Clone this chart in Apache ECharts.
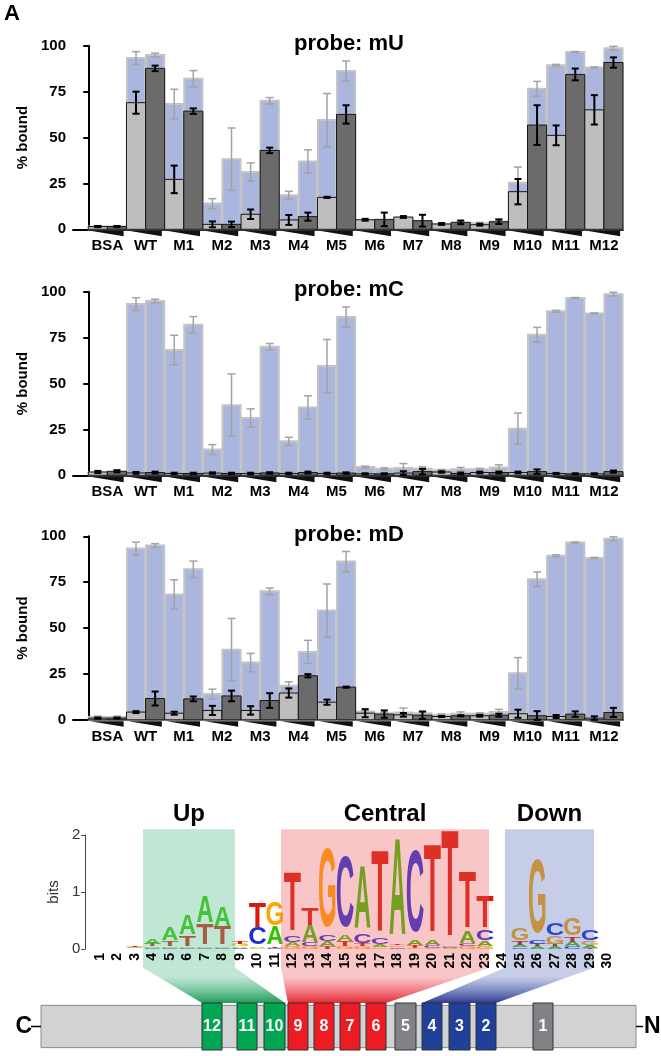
<!DOCTYPE html>
<html><head><meta charset="utf-8">
<script src="https://cdn.jsdelivr.net/npm/echarts@6/dist/echarts.min.js"></script>
<style>html,body{margin:0;padding:0;background:#fff}#c{width:661px;height:1056px}</style>
</head><body><div id="c"></div>
<script>
// ---------------- DATA ----------------
const groups = ['BSA','WT','M1','M2','M3','M4','M5','M6','M7','M8','M9','M10','M11','M12'];
const yTicks = [0, 25, 50, 75, 100];

// reference binding (blue bars), identical in every panel
const refLow     = [1.5, 93.3, 68.3, 14.0, 31.2, 18.5, 59.5, 4.5, 4.0, 2.7, 3.3, 25.4, 89.4, 88.2];
const refLowErr  = [0.5, 3.5, 8.0, 2.7, 5.0, 2.2, 14.5, 0.5, 2.4, 0.5, 0.5, 8.5, 0.5, 0.3];
const refHigh    = [1.5, 95.0, 82.0, 38.2, 70.0, 37.0, 86.2, 3.6, 3.6, 3.3, 4.2, 76.6, 96.6, 98.7];
const refHighErr = [0.5, 1.0, 4.5, 17.0, 1.8, 6.3, 5.5, 0.5, 1.0, 1.0, 1.5, 4.0, 0.3, 1.0];

// probe mU
const mULow     = [1.5, 69.0, 27.2, 2.7, 8.2, 5.1, 17.4, 5.2, 6.7, 2.9, 2.5, 20.5, 51.2, 65.1];
const mULowErr  = [0.3, 6.0, 7.5, 1.6, 2.6, 2.7, 0.3, 0.5, 0.5, 0.5, 0.5, 6.9, 5.4, 8.0];
const mUHigh    = [1.5, 87.7, 64.4, 2.7, 43.0, 6.9, 62.6, 5.4, 4.7, 3.8, 4.1, 56.8, 84.4, 90.9];
const mUHighErr = [0.3, 1.5, 1.5, 1.5, 1.5, 2.2, 5.0, 3.7, 3.2, 1.0, 1.2, 10.8, 3.2, 2.8];
// probe mC
const mCLow     = [1.8, 1.3, 1.0, 1.2, 1.0, 1.0, 1.0, 0.8, 1.2, 1.8, 1.5, 1.5, 1.0, 0.8];
const mCLowErr  = [0.6, 0.5, 0.4, 0.4, 0.4, 0.4, 0.4, 0.3, 1.0, 0.4, 0.5, 0.5, 0.3, 0.3];
const mCHigh    = [2.2, 1.5, 1.0, 1.0, 1.3, 1.5, 1.2, 0.8, 2.0, 1.0, 1.5, 2.0, 0.8, 2.0];
const mCHighErr = [0.6, 0.5, 0.4, 0.4, 0.4, 0.5, 0.4, 0.3, 1.5, 0.5, 0.5, 1.2, 0.3, 0.6];
// probe mD
const mDLow     = [0.9, 4.2, 3.6, 5.1, 5.1, 14.6, 9.6, 3.6, 2.7, 1.8, 2.2, 3.3, 1.8, 0.9];
const mDLowErr  = [0.3, 0.5, 0.8, 2.5, 2.3, 2.5, 1.4, 2.2, 1.0, 0.3, 0.5, 2.2, 0.8, 1.0];
const mDHigh    = [0.9, 11.6, 11.4, 13.0, 10.5, 24.0, 17.8, 3.1, 2.5, 2.2, 2.5, 2.2, 3.1, 4.0];
const mDHighErr = [0.3, 3.8, 1.3, 2.9, 4.0, 0.9, 0.3, 2.0, 2.0, 0.3, 0.8, 2.5, 1.5, 2.5];

// sequence logo (bits per letter, positions 1..30)
const logoPositions = [1,2,3,4,5,6,7,8,9,10,11,12,13,14,15,16,17,18,19,20,21,22,23,24,25,26,27,28,29,30];
const bitsA = [0,0,0.012,0.10,0.22,0.35,0.47,0.35,0.03,0.03,0.33,0.06,0.30,0.08,0.12,1.12,0.04,1.72,0.08,0.10,0.02,0.20,0.08,0.01,0.04,0.04,0.04,0.08,0.04,0];
const bitsC = [0,0,0.010,0.02,0.02,0.02,0.02,0.02,0.02,0.30,0.02,0.12,0.06,0.12,1.30,0.17,0.12,0.03,1.50,0.04,0.02,0.05,0.20,0.01,0.03,0.06,0.22,0.04,0.18,0];
const bitsG = [0,0,0.012,0.02,0.02,0.02,0.03,0.03,0.04,0.02,0.42,0.05,0.04,1.45,0.05,0.04,0.03,0.03,0.02,0.02,0.02,0.04,0.05,0.01,0.22,1.35,0.14,0.30,0.08,0];
const bitsT = [0,0,0.012,0.04,0.10,0.18,0.38,0.32,0.04,0.45,0.03,1.05,0.30,0.04,0.08,0.04,1.45,0.03,0.04,1.55,1.88,1.00,0.55,0.01,0.06,0.04,0.04,0.10,0.02,0];
const logoYTicks = [0, 1, 2];

// logo regions (in logo position units)
const regionNames = ['Up', 'Central', 'Down'];
const regionFrom  = [3.46, 11.34, 24.14];
const regionTo    = [8.71, 23.23, 29.23];

// protein schematic (C -> N, length units)
const proteinLength = 595;
const domainNames = ['12','11','10','9','8','7','6','5','4','3','2','1'];
const domainStart = [161, 196, 223, 247, 273, 299, 325, 354, 381, 408, 435, 492];
const domainLen   = [20, 20, 21, 20, 20, 20, 20, 21, 20, 21, 20, 20];
const domainClass = [0, 0, 0, 1, 1, 1, 1, 3, 2, 2, 2, 3]; // 0 up,1 central,2 down,3 other

// ---------------- STYLE ----------------
const FONT = '"Liberation Sans", Arial, Helvetica, sans-serif';
const letterColor = {A:'#33c400', C:'#1a2fdc', G:'#ffa500', T:'#d81a0a'};
const letterInk = {A:0.70, C:0.64, G:0.68, T:0.58};
const letterCap = {A:0.716, C:0.74, G:0.74, T:0.716};
const regionFill = ['rgba(97,192,148,0.40)', 'rgba(238,92,98,0.35)', 'rgba(92,112,184,0.35)'];
const regionDark = ['rgba(20,150,80,0.95)', 'rgba(230,30,42,0.95)', 'rgba(34,48,140,0.95)'];
const classColor = ['#00a651', '#ed1c24', '#21409a', '#808285'];
const BOX_TOP = 2.1, BOX_BOTTOM = -0.33;

const panels = [
  {title:'probe: mU', low:mULow, lowErr:mULowErr, high:mUHigh, highErr:mUHighErr},
  {title:'probe: mC', low:mCLow, lowErr:mCLowErr, high:mCHigh, highErr:mCHighErr},
  {title:'probe: mD', low:mDLow, lowErr:mDLowErr, high:mDHigh, highErr:mDHighErr}
];
const panelTop = [45.8, 291.8, 536.3];
const panelH = 183.5;

// ---------------- BUILD ----------------
function pairData(low, lowErr, high, highErr) {
  const d = [];
  groups.forEach((g, i) => {
    d.push([2 * i, low[i], lowErr[i], 0]);
    d.push([2 * i + 1, high[i], highErr[i], 1]);
  });
  return d;
}
function errBar(api, x, v, e, color, w, cap) {
  const t = api.coord([x + 0.5, v + e]);
  const b = api.coord([x + 0.5, Math.max(0, v - e)]);
  const st = {stroke: color, lineWidth: w};
  return [
    {type:'line', shape:{x1:t[0], y1:t[1], x2:b[0], y2:b[1]}, style:st},
    {type:'line', shape:{x1:t[0]-cap, y1:t[1], x2:t[0]+cap, y2:t[1]}, style:st},
    {type:'line', shape:{x1:b[0]-cap, y1:b[1], x2:b[0]+cap, y2:b[1]}, style:st}
  ];
}
function renderRef(params, api) {
  const x = api.value(0), v = api.value(1), e = api.value(2);
  const p0 = api.coord([x, 0]), p1 = api.coord([x + 1, v]);
  return {type:'group', children:[
    {type:'rect', shape:{x:p0[0]+0.5, y:p1[1], width:p1[0]-p0[0]-1, height:p0[1]-p1[1]},
     style:{fill:'#aab6dd', stroke:'#c4c4c4', lineWidth:2}},
    ...errBar(api, x, v, e, '#a3a3a3', 1.5, 4)
  ]};
}
function renderProbe(params, api) {
  const x = api.value(0), v = api.value(1), e = api.value(2), k = api.value(3);
  const p0 = api.coord([x, 0]), p1 = api.coord([x + 1, v]);
  return {type:'group', children:[
    {type:'rect', shape:{x:p0[0], y:p1[1], width:p1[0]-p0[0], height:p0[1]-p1[1]},
     style:{fill: k === 0 ? '#bebebe' : '#6b6b6b', stroke:'#161616', lineWidth:1}},
    ...errBar(api, x, v, e, '#000', 2, 3.5)
  ]};
}
function renderGroup(params, api) {
  const g = api.value(0);
  const l = api.coord([2*g + 0.1, 0]), r = api.coord([2*g + 1.85, 0]), c = api.coord([2*g + 1, 0]);
  const y0 = l[1];
  return {type:'group', children:[
    {type:'polygon', shape:{points:[[l[0], y0+1.5],[r[0], y0+1.5],[r[0], y0+7]]}, style:{fill:'#111'}},
    {type:'text', x:c[0], y:y0+17, style:{text:groups[g], fontSize:15, fontWeight:'bold', fontFamily:FONT,
      fill:'#000', align:'center', verticalAlign:'middle'}}
  ]};
}
function renderLetters(params, api) {
  const pos = api.value(0);
  const stack = [['A', api.value(1)], ['C', api.value(2)], ['G', api.value(3)], ['T', api.value(4)]]
    .filter(d => d[1] > 0).sort((a, b) => a[1] - b[1]);
  const bw = api.size([1, 0])[0];
  const cx = api.coord([pos, 0])[0];
  const fs = 40;
  let base = 0;
  const children = [];
  stack.forEach(([L, h]) => {
    const yb = api.coord([pos, base])[1], yt = api.coord([pos, base + h])[1];
    base += h;
    const hp = yb - yt;
    if (hp < 0.6) return;
    const sy = hp / (letterCap[L] * fs), sx = bw * 0.94 / (letterInk[L] * fs);
    children.push({type:'text', x:cx, y:(yb + yt) / 2 + 0.0115 * fs * sy, scaleX:sx, scaleY:sy,
      style:{text:L, fontSize:fs, fontWeight:'bold', fontFamily:FONT, fill:letterColor[L],
        align:'center', verticalAlign:'middle'}});
  });
  return {type:'group', children};
}
function renderRegion(params, api) {
  const i = params.dataIndex;
  const tl = api.coord([api.value(0), BOX_TOP]), br = api.coord([api.value(1), BOX_BOTTOM]);
  return {type:'group', children:[
    {type:'rect', shape:{x:tl[0], y:tl[1], width:br[0]-tl[0], height:br[1]-tl[1]}, style:{fill:regionFill[i]}},
    {type:'text', x:(tl[0]+br[0])/2, y:tl[1]-15, style:{text:regionNames[i], fontSize:24, fontWeight:'bold',
      fontFamily:FONT, fill:'#000', align:'center', verticalAlign:'middle'}}
  ]};
}
function renderBackbone(params, api) {
  const a = api.coord([0, 0.95]), b = api.coord([api.value(0), 0.05]);
  const mid = (a[1] + b[1]) / 2;
  return {type:'group', children:[
    {type:'rect', shape:{x:a[0], y:a[1], width:b[0]-a[0], height:b[1]-a[1]}, style:{fill:'#d1d2d4', stroke:'#8a8a8a', lineWidth:1}},
    {type:'line', shape:{x1:a[0]-10, y1:mid, x2:a[0], y2:mid}, style:{stroke:'#000', lineWidth:1.5}},
    {type:'line', shape:{x1:b[0], y1:mid, x2:b[0]+7, y2:mid}, style:{stroke:'#000', lineWidth:1.5}},
    {type:'text', x:a[0]-9, y:mid, style:{text:'C', fontSize:23, fontWeight:'bold', fontFamily:FONT, fill:'#000', align:'right', verticalAlign:'middle'}},
    {type:'text', x:b[0]+8, y:mid, style:{text:'N', fontSize:23, fontWeight:'bold', fontFamily:FONT, fill:'#000', align:'left', verticalAlign:'middle'}}
  ]};
}
function renderDomain(params, api) {
  const s = api.value(0), len = api.value(1), cls = api.value(2);
  const a = api.coord([s, 1]), b = api.coord([s + len, 0]);
  return {type:'group', children:[
    {type:'rect', shape:{x:a[0], y:a[1], width:b[0]-a[0], height:b[1]-a[1]}, style:{fill:classColor[cls], stroke:'#333', lineWidth:1}},
    {type:'text', x:(a[0]+b[0])/2, y:(a[1]+b[1])/2, style:{text:domainNames[params.dataIndex], fill:'#fff', fontSize:16,
      fontWeight:'bold', fontFamily:FONT, align:'center', verticalAlign:'middle'}}
  ]};
}

const grid = [], xAxis = [], yAxis = [], series = [];
panels.forEach((p, i) => {
  grid.push({left:73, width:550, top:panelTop[i], height:panelH});
  xAxis.push({type:'value', gridIndex:i, min:-0.8, max:28, axisLine:{show:true, onZero:false, lineStyle:{color:'#000', width:2}},
    axisTick:{show:false}, axisLabel:{show:false}, splitLine:{show:false}});
  yAxis.push({type:'value', gridIndex:i, min:yTicks[0], max:yTicks[yTicks.length-1], interval:yTicks[1]-yTicks[0],
    axisLine:{show:true, lineStyle:{color:'#000', width:2}}, axisTick:{show:true, length:5, lineStyle:{color:'#000', width:2}},
    axisLabel:{fontSize:15, fontWeight:'bold', color:'#000', fontFamily:FONT, margin:7}, splitLine:{show:false},
    name:'% bound', nameLocation:'middle', nameGap:27, nameTextStyle:{fontSize:15, fontWeight:'bold', color:'#000', fontFamily:FONT}});
  series.push({type:'custom', xAxisIndex:i, yAxisIndex:i, z:2, silent:true, renderItem:renderRef,
    data:pairData(refLow, refLowErr, refHigh, refHighErr)});
  series.push({type:'custom', xAxisIndex:i, yAxisIndex:i, z:3, silent:true, renderItem:renderProbe,
    data:pairData(p.low, p.lowErr, p.high, p.highErr)});
  series.push({type:'custom', xAxisIndex:i, yAxisIndex:i, z:4, silent:true, renderItem:renderGroup,
    data:groups.map((g, k) => [k])});
});
// logo grid
grid.push({left:91.25, width:525, top:835, height:114});
xAxis.push({type:'value', gridIndex:3, position:'top', min:0.5, max:30.5, show:false});
xAxis.push({type:'category', gridIndex:3, position:'bottom', data:logoPositions.map(String), z:10,
  axisLine:{show:false}, axisTick:{show:false},
  axisLabel:{rotate:90, fontSize:14, fontWeight:'bold', color:'#000', fontFamily:FONT, margin:4, interval:0}});
yAxis.push({type:'value', gridIndex:3, min:logoYTicks[0], max:logoYTicks[2], interval:1, offset:6,
  axisLine:{show:true, lineStyle:{color:'#444', width:1}}, axisTick:{show:true, length:4, lineStyle:{color:'#444'}},
  axisLabel:{fontSize:15, color:'#333', fontFamily:FONT, margin:5}, splitLine:{show:false},
  name:'bits', nameLocation:'middle', nameGap:17, nameTextStyle:{fontSize:15, color:'#333', fontFamily:FONT}});
// protein grid
grid.push({left:41, width:595, top:1003, height:47});
xAxis.push({type:'value', gridIndex:4, min:0, max:proteinLength, show:false});
yAxis.push({type:'value', gridIndex:4, min:0, max:1, show:false});

series.push({type:'custom', xAxisIndex:3, yAxisIndex:3, z:2, silent:true, renderItem:renderLetters,
  data:logoPositions.map((p, i) => [p, bitsA[i], bitsC[i], bitsG[i], bitsT[i]])});
const REGION_SERIES = series.length;
series.push({type:'custom', xAxisIndex:3, yAxisIndex:3, z:3, silent:true, renderItem:renderRegion,
  data:regionNames.map((n, i) => [regionFrom[i], regionTo[i]])});
series.push({type:'custom', xAxisIndex:5, yAxisIndex:4, z:2, silent:true, renderItem:renderBackbone,
  data:[[proteinLength]]});
const DOMAIN_SERIES = series.length;
series.push({type:'custom', xAxisIndex:5, yAxisIndex:4, z:3, silent:true, renderItem:renderDomain,
  data:domainStart.map((s, i) => [s, domainLen[i], domainClass[i]])});

const chart = echarts.init(document.getElementById('c'), null, {width:661, height:1056});
chart.setOption({animation:false, backgroundColor:'#fff', grid, xAxis, yAxis, series});

// texts + funnels (funnels placed through the two coordinate systems)
const graphics = [
  {type:'text', x:12, y:13.5, style:{text:'A', fontSize:22, fontWeight:'bold', fontFamily:FONT, fill:'#000', align:'center', verticalAlign:'middle'}}
];
panels.forEach((p, i) => {
  graphics.push({type:'text', x:349, y:panelTop[i]-1.6, style:{text:p.title, fontSize:22, fontWeight:'bold', fontFamily:FONT,
    fill:'#000', align:'center', verticalAlign:'middle'}});
});
regionNames.forEach((n, r) => {
  const idx = domainClass.map((c, k) => c === r ? k : -1).filter(k => k >= 0);
  const d0 = Math.min(...idx.map(k => domainStart[k]));
  const d1 = Math.max(...idx.map(k => domainStart[k] + domainLen[k]));
  const tl = chart.convertToPixel({seriesIndex:REGION_SERIES}, [regionFrom[r], BOX_BOTTOM]);
  const tr = chart.convertToPixel({seriesIndex:REGION_SERIES}, [regionTo[r], BOX_BOTTOM]);
  const bl = chart.convertToPixel({seriesIndex:DOMAIN_SERIES}, [d0, 1]);
  const br = chart.convertToPixel({seriesIndex:DOMAIN_SERIES}, [d1, 1]);
  graphics.push({type:'polygon', z:1, silent:true, shape:{points:[tl, tr, br, bl]},
    style:{fill:new echarts.graphic.LinearGradient(0, 0, 0, 1, [{offset:0, color:regionFill[r]}, {offset:0.25, color:regionFill[r]}, {offset:1, color:regionDark[r]}])}});
});
chart.setOption({graphic:graphics});
</script></body></html>
